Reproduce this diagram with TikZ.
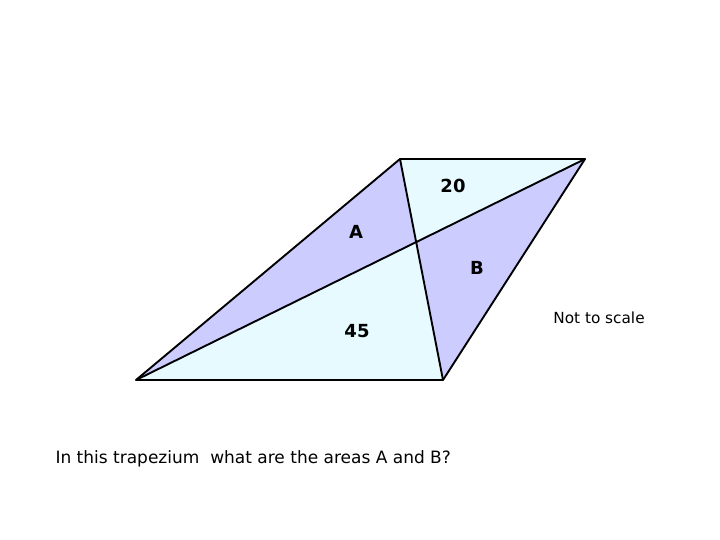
\documentclass[tikz,border=0pt]{standalone}
\usepackage{fontspec}
\setmainfont{DejaVu Sans}
\definecolor{lavender}{RGB}{204,204,255}
\definecolor{palecyan}{RGB}{230,250,255}

\begin{document}
\begin{tikzpicture}[x=1pt,y=-1pt,
    edge/.style={line width=1.9pt, line join=round},
    area/.style={font=\bfseries\fontsize{18}{20}\selectfont},
    note/.style={font=\fontsize{17}{20}\selectfont}]
    \useasboundingbox (0,0) rectangle (720,540);

    \coordinate (BL) at (136,380);
    \coordinate (BR) at (443,380);
    \coordinate (TR) at (585,159);
    \coordinate (TL) at (400,159);
    \coordinate (X) at (intersection of BL--TR and TL--BR);

    \fill[lavender] (BL) -- (TL) -- (X) -- cycle;
    \fill[lavender] (X) -- (TR) -- (BR) -- cycle;
    \fill[palecyan] (TL) -- (TR) -- (X) -- cycle;
    \fill[palecyan] (BL) -- (X) -- (BR) -- cycle;

    \draw[edge] (BL) -- (BR) -- (TR) -- (TL) -- cycle;
    \draw[edge] (BL) -- (TR);
    \draw[edge] (TL) -- (BR);

    \node[area] (top) at (453,186) {20};
    \node[area] (A) at (356,232) {A};
    \node[area] (B) at (477,268) {B};
    \node[area] (bottom) at (357,331) {45};

    \node[note, font=\fontsize{15.3}{18}\selectfont] (scale) at (599,318) {Not to scale};
    \node[note, anchor=west] (question) at (52,459) {In this trapezium\ \ what are the areas A and B?};
\end{tikzpicture}
\end{document}
